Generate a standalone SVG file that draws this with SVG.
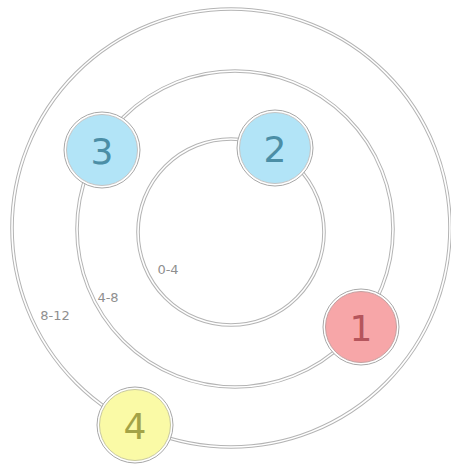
<svg xmlns="http://www.w3.org/2000/svg" width="451" height="468" viewBox="0 0 451 468">
<style>
.ringO{fill:none;stroke:#b4b4b4;stroke-width:3.6}
.ringI{fill:none;stroke:#ffffff;stroke-width:1.6}
.halo{fill:#ffffff;stroke:#a8a8a8;stroke-width:1}
.blue{fill:#b2e4f7;stroke:#c4c4c4;stroke-width:1}
.pink{fill:#f7a6a8;stroke:#c4a0a0;stroke-width:1}
.yellow{fill:#fafaa6;stroke:#c8c8a0;stroke-width:1}
.num{font-family:"DejaVu Sans",sans-serif;font-size:36px;text-anchor:middle;dominant-baseline:central}
.lbl{font-family:"DejaVu Sans",sans-serif;font-size:13px;fill:#8f8f8f;text-anchor:middle;dominant-baseline:central}
</style>
<rect width="451" height="468" fill="#ffffff"/>
<g id="connectors">
<circle class="ringO" cx="231" cy="228" r="219"/>
<circle class="ringI" cx="231" cy="228" r="219"/>
<circle class="ringO" cx="235" cy="229" r="158"/>
<circle class="ringI" cx="235" cy="229" r="158"/>
<circle class="ringO" cx="231" cy="232" r="93"/>
<circle class="ringI" cx="231" cy="232" r="93"/>
</g>
<g id="labels">
<text class="lbl" x="168" y="269">0-4</text>
<text class="lbl" x="108" y="297">4-8</text>
<text class="lbl" x="55" y="315">8-12</text>
</g>
<g id="node1">
<circle class="halo" cx="361" cy="327" r="38"/>
<circle class="pink" cx="361" cy="327" r="35.5"/>
<text class="num" x="361" y="328" fill="#b5555c">1</text>
</g>
<g id="node2">
<circle class="halo" cx="275" cy="148" r="38"/>
<circle class="blue" cx="275" cy="148" r="35.5"/>
<text class="num" x="275" y="149" fill="#4b8ea6">2</text>
</g>
<g id="node3">
<circle class="halo" cx="102" cy="150" r="38"/>
<circle class="blue" cx="102" cy="150" r="35.5"/>
<text class="num" x="102" y="151" fill="#4b8ea6">3</text>
</g>
<g id="node4">
<circle class="halo" cx="135" cy="425" r="38"/>
<circle class="yellow" cx="135" cy="425" r="35.5"/>
<text class="num" x="135" y="426" fill="#a3a347">4</text>
</g>
</svg>
